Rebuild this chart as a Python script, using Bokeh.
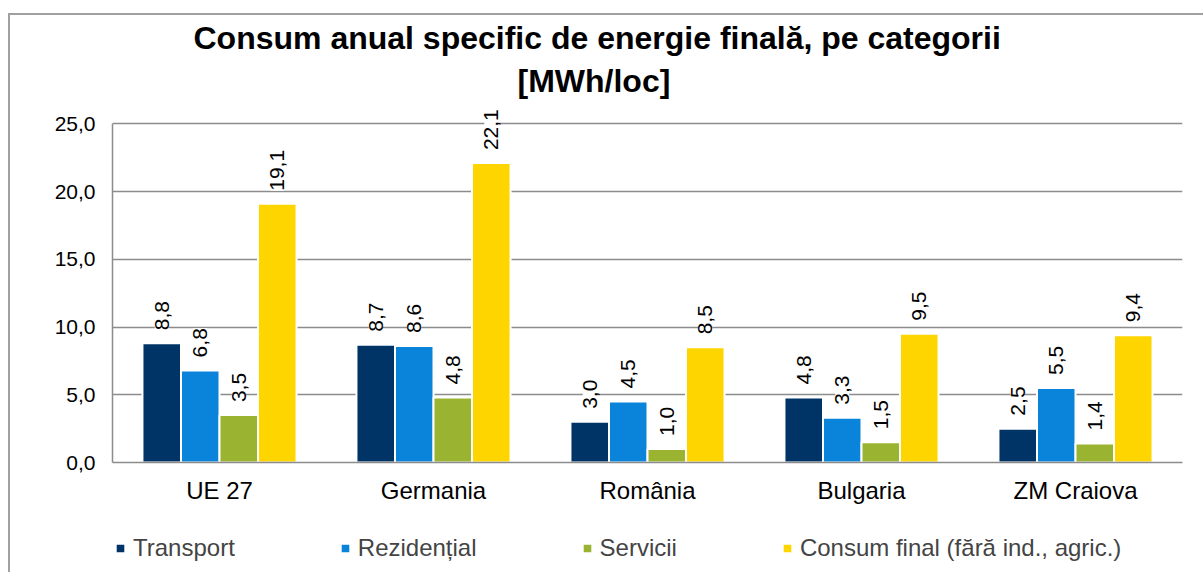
import math
from bokeh.plotting import figure
from bokeh.layouts import column
from bokeh.models import (ColumnDataSource, FactorRange, Range1d, Legend, LegendItem,
                          Title, CustomJSTickFormatter, FixedTicker)
from bokeh.transform import dodge
from bokeh.core.properties import value
from bokeh.embed import file_html
from bokeh.resources import INLINE

# ---- data ----
categories = ["UE 27", "Germania", "România", "Bulgaria", "ZM Craiova"]
transport = [8.8, 8.7, 3.0, 4.8, 2.5]
rezidential = [6.8, 8.6, 4.5, 3.3, 5.5]
servicii = [3.5, 4.8, 1.0, 1.5, 1.4]
consum_final = [19.1, 22.1, 8.5, 9.5, 9.4]
series_names = ["Transport", "Rezidențial", "Servicii", "Consum final (fără ind., agric.)"]
y_ticks = [0, 5, 10, 15, 20, 25]
title_line1 = "Consum anual specific de energie finală, pe categorii"
title_line2 = "[MWh/loc]"

colors = ["#003366", "#0a84da", "#9ab431", "#ffd500"]
offsets = [-0.27, -0.09, 0.09, 0.27]
FONT = "Liberation Sans"

series = [transport, rezidential, servicii, consum_final]
keys = ["s0", "s1", "s2", "s3"]
data = {"cat": categories}
for k, s in zip(keys, series):
    data[k] = s
    data[k + "_lbl"] = [f"{v:.1f}".replace(".", ",") for v in s]
source = ColumnDataSource(data)

# ---- main chart ----
p = figure(x_range=FactorRange(*categories), y_range=Range1d(0, 26.5),
           width=1193, height=507, output_backend="svg", toolbar_location=None,
           min_border_left=102, min_border_right=21, min_border_top=88, min_border_bottom=60)
p.outline_line_color = None
p.background_fill_color = "white"
p.border_fill_color = "white"

for k, c, off in zip(keys, colors, offsets):
    p.vbar(x=dodge("cat", off, range=p.x_range), top=k, width=0.18, source=source,
           fill_color=c, line_color="white", line_width=2)
    p.text(x=dodge("cat", off, range=p.x_range), y=k, text=k + "_lbl", source=source,
           angle=math.pi / 2, text_align="left", text_baseline="middle", y_offset=-13,
           text_font=value(FONT), text_font_size="21px", text_color="black",
           background_fill_color="white")

p.yaxis.ticker = FixedTicker(ticks=y_ticks)
p.yaxis.bounds = (0, 25)
p.yaxis.formatter = CustomJSTickFormatter(code="return tick.toFixed(1).replace('.', ',');")
for ax in (p.xaxis[0], p.yaxis[0]):
    ax.axis_line_color = "#8c8c8c"
    ax.axis_line_width = 1.5
    ax.major_tick_line_color = None
    ax.minor_tick_line_color = None
    ax.major_tick_out = 0
    ax.major_tick_in = 0
    ax.major_label_text_font = FONT
    ax.major_label_text_color = "black"
p.yaxis.major_label_text_font_size = "21px"
p.xaxis.major_label_text_font_size = "24px"
p.yaxis.major_label_standoff = 17
p.xaxis.major_label_standoff = 14
p.xgrid.grid_line_color = None
p.ygrid.grid_line_color = "#8c8c8c"
p.ygrid.grid_line_width = 1.5
p.x_range.range_padding = 0

# titles (first added = closest to the plot)
p.add_layout(Title(text=title_line2, align="left", offset=405, text_font=FONT,
                   text_color="black", text_font_size="32px", text_font_style="bold",
                   standoff=10), "above")
p.add_layout(Title(text=title_line1, align="left", offset=81, text_font=FONT,
                   text_color="black", text_font_size="32px", text_font_style="bold",
                   standoff=0), "above")

# ---- legend strip (shares the x range; its bars lie far outside its visible y range) ----
lp = figure(width=1193, height=50, x_range=p.x_range, y_range=Range1d(1000, 1001),
            x_axis_type=None, y_axis_type=None, toolbar_location=None,
            output_backend="svg", min_border=0)
lp.outline_line_color = None
lp.background_fill_color = "white"
lp.border_fill_color = "white"
swatches = [lp.vbar(x=dodge("cat", off, range=lp.x_range), top=k, width=0.18, source=source,
                    fill_color=c, line_color="white", line_width=2)
            for k, c, off in zip(keys, colors, offsets)]
legend = Legend(items=[LegendItem(label=n, renderers=[r]) for n, r in zip(series_names, swatches)],
                location=(2, 10), orientation="horizontal", spacing=104,
                glyph_width=12, glyph_height=12, label_standoff=7,
                label_text_font=FONT, label_text_font_size="24px", label_height=20,
                padding=0, margin=0, border_line_color=None, background_fill_alpha=0)
lp.add_layout(legend)

layout = column(p, lp, styles={"border-left": "2px solid #a0a0a0",
                               "border-top": "2px solid #a0a0a0",
                               "margin-left": "8px", "margin-top": "13px"})

open("out.html", "w").write(file_html(layout, INLINE))
